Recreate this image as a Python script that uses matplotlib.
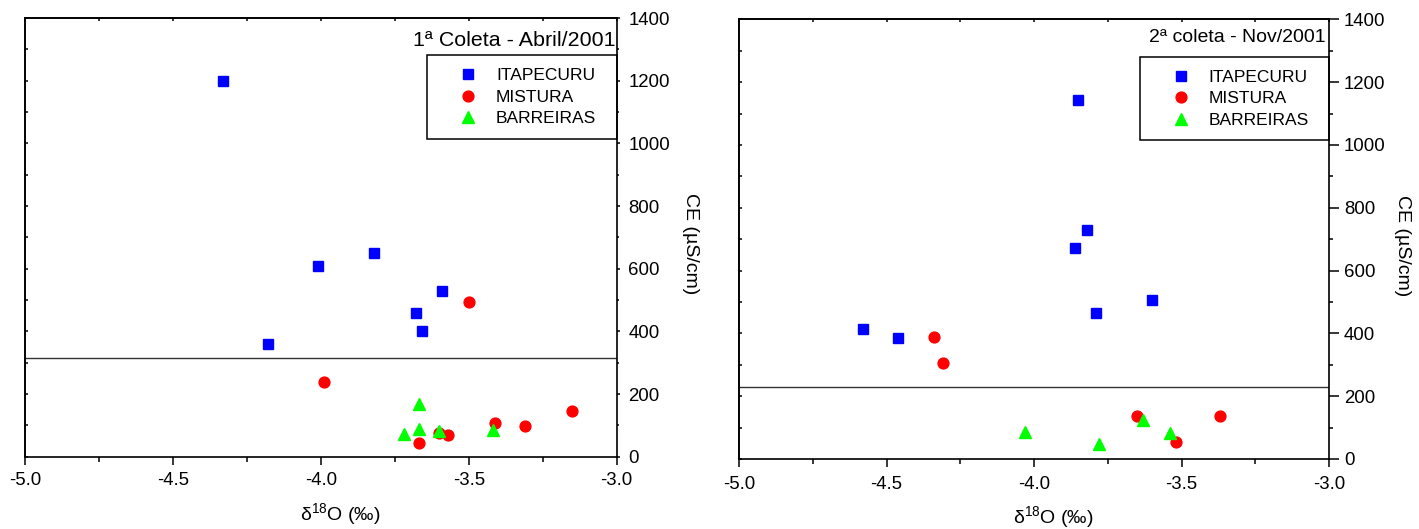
import matplotlib
matplotlib.use("Agg")
import matplotlib.pyplot as plt
from matplotlib.patches import Rectangle
from matplotlib.ticker import MultipleLocator

plt.rcParams["font.family"] = ["Liberation Sans", "DejaVu Sans"]
plt.rcParams["mathtext.fontset"] = "custom"
plt.rcParams["mathtext.rm"] = "Liberation Sans"

# ---- 1ª coleta (Abril/2001) ----
c1_itap_x = [-4.33, -4.18, -4.01, -3.82, -3.68, -3.66, -3.59]
c1_itap_y = [1200, 360, 610, 650, 460, 400, 530]
c1_mist_x = [-3.99, -3.50, -3.67, -3.60, -3.57, -3.41, -3.31, -3.15]
c1_mist_y = [240, 493, 44, 77, 70, 108, 98, 145]
c1_barr_x = [-3.72, -3.67, -3.67, -3.60, -3.42]
c1_barr_y = [71, 167, 87, 83, 85]
c1_limit = 315

# ---- 2ª coleta (Nov/2001) ----
c2_itap_x = [-4.58, -4.46, -3.85, -3.86, -3.82, -3.79, -3.60]
c2_itap_y = [414, 384, 1142, 673, 730, 464, 505]
c2_mist_x = [-4.34, -4.31, -3.65, -3.52, -3.37]
c2_mist_y = [389, 307, 137, 54, 137]
c2_barr_x = [-4.03, -3.78, -3.63, -3.54]
c2_barr_y = [87, 49, 124, 84]
c2_limit = 230

series_names = ["ITAPECURU", "MISTURA", "BARREIRAS"]
x_ticks = [-5.0, -4.5, -4.0, -3.5, -3.0]
y_ticks = [0, 200, 400, 600, 800, 1000, 1200, 1400]

fig = plt.figure(figsize=(14.19, 5.29), dpi=100)
ax1 = fig.add_axes([0.01783, 0.13667, 0.41677, 0.82911])
ax2 = fig.add_axes([0.52079, 0.13233, 0.41579, 0.83100])


def draw_panel(ax, data, limit, title, title_size, title_pos,
               right_major, right_minor, right_pad, bottom_pad):
    (ix, iy), (mx, my), (bx, by) = data
    h1, = ax.plot(ix, iy, ls="none", marker="s", ms=6.8, color="#0000ff", mec="#0000ff", zorder=3)
    h2, = ax.plot(mx, my, ls="none", marker="o", ms=7.8, color="#ff0000", mec="#ff0000", zorder=4)
    h3, = ax.plot(bx, by, ls="none", marker="^", ms=9.0, color="#00ff00", mec="#00ff00", zorder=5)
    ax.axhline(limit, color="#333333", lw=1.0, zorder=2)

    ax.set_xlim(-5.0, -3.0)
    ax.set_ylim(0, 1400)
    ax.set_xticks(x_ticks)
    ax.set_xticklabels(["%.1f" % v for v in x_ticks])
    ax.xaxis.set_minor_locator(MultipleLocator(0.25))
    ax.yaxis.tick_right()
    ax.set_yticks(y_ticks)
    ax.yaxis.set_minor_locator(MultipleLocator(100))

    for sp in ax.spines.values():
        sp.set_linewidth(1.2)
        sp.set_color("black")

    ax.tick_params(axis="x", which="major", direction="out", length=5.8, width=1.1,
                   labelsize=13.4, pad=bottom_pad)
    ax.tick_params(axis="x", which="minor", direction="out", length=3.6, width=1.1)
    ax.tick_params(axis="y", which="major", direction="out", length=right_major, width=1.1,
                   labelsize=13.4, pad=right_pad, left=False, right=True)
    ax.tick_params(axis="y", which="minor", direction="out", length=right_minor, width=1.1,
                   left=False, right=True)

    # mirrored inner ticks on top and left spines
    top = ax.secondary_xaxis("top")
    top.xaxis.set_major_locator(MultipleLocator(0.25))
    top.tick_params(direction="in", length=2.2, width=1.1, labeltop=False)
    top.spines["top"].set_linewidth(1.2)
    left = ax.secondary_yaxis("left")
    left.yaxis.set_major_locator(MultipleLocator(100))
    left.tick_params(direction="in", length=2.2, width=1.1, labelleft=False)
    left.spines["left"].set_linewidth(1.2)

    ax.text(title_pos[0], title_pos[1], title, transform=ax.transAxes,
            ha="right", va="baseline", fontsize=title_size)

    ax.add_patch(Rectangle((0.6797, 0.7250), 0.3203, 0.1900, transform=ax.transAxes,
                           fill=False, edgecolor="black", lw=1.1, zorder=6, clip_on=False))
    ax.legend([h1, h2, h3], series_names, loc="upper left",
              bbox_to_anchor=(0.7193, 0.8860), frameon=False, fontsize=12.5,
              borderpad=0, borderaxespad=0, handlelength=2.0, handletextpad=0.61,
              labelspacing=0.37, markerscale=1.0)

    ax.text(0.532, -0.147, r"δ$^{\mathregular{18}}$O (‰)", transform=ax.transAxes,
            ha="center", va="baseline", fontsize=14)
    ax.text(1.125, 0.485, "CE (µS/cm)", transform=ax.transAxes, rotation=270,
            ha="center", va="center", fontsize=14)


draw_panel(ax1,
           [(c1_itap_x, c1_itap_y), (c1_mist_x, c1_mist_y), (c1_barr_x, c1_barr_y)],
           c1_limit, "1ª Coleta - Abril/2001", 15.4, (0.9985, 0.937), 2.2, 1.5, 6.2, 5.0)
draw_panel(ax2,
           [(c2_itap_x, c2_itap_y), (c2_mist_x, c2_mist_y), (c2_barr_x, c2_barr_y)],
           c2_limit, "2ª coleta - Nov/2001", 14.0, (0.995, 0.948), 7.2, 3.0, 3.6, 6.7)

fig.savefig("out.png", dpi=100)
